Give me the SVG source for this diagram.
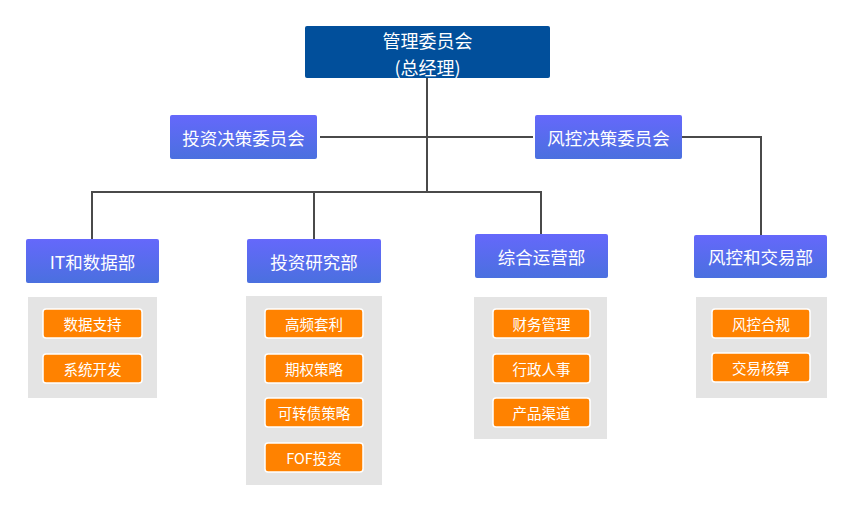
<svg xmlns="http://www.w3.org/2000/svg" width="853" height="509" viewBox="0 0 853 509">
<defs>
<linearGradient id="blu" x1="0" y1="0" x2="0" y2="1">
<stop offset="0" stop-color="#6568fb"/>
<stop offset="1" stop-color="#4a70df"/>
</linearGradient>
<style>
text{font-family:"Noto Sans CJK SC","Microsoft YaHei",sans-serif;fill:#fff;text-anchor:middle;dominant-baseline:central}
.top{fill:#014f9b}
.com{fill:url(#blu)}
.big{font-size:18px}
.mid{font-size:17.5px}
.sm{font-size:14.5px}
.gray{fill:#e4e4e4}
.or{fill:#ff8200;stroke:#fff;stroke-width:1.5}
.ln{fill:none;stroke:#4a4a4a;stroke-width:2}
</style>
</defs>
<rect width="853" height="509" fill="#fff"/>
<g id="connectors">
<path class="ln" d="M427 78 V192"/>
<path class="ln" d="M320 137 H533"/>
<path class="ln" d="M92 239 V192 H541 V234"/>
<path class="ln" d="M314 192 V239"/>
<path class="ln" d="M682 137 H761 V235"/>
</g>
<g id="mgmt">
<rect class="top" x="305" y="26" width="245" height="52" rx="2"/>
<text class="big" x="427.5" y="40">管理委员会</text>
<text class="big" x="427.5" y="66.5">(总经理)</text>
</g>
<g id="invcom">
<rect class="com" x="170" y="115" width="147" height="44" rx="2"/>
<text class="mid" x="243.5" y="137">投资决策委员会</text>
</g>
<g id="riskcom">
<rect class="com" x="535" y="115" width="147" height="44" rx="2"/>
<text class="mid" x="608.5" y="137">风控决策委员会</text>
</g>
<g id="it">
<rect class="com" x="26" y="239" width="133" height="44" rx="2"/>
<text class="mid" x="92.5" y="261">IT和数据部</text>
<rect class="gray" x="28" y="297" width="129" height="101"/>
<rect class="or" x="43" y="309" width="99" height="29" rx="3"/>
<text class="sm" x="92.5" y="323.5">数据支持</text>
<rect class="or" x="43" y="354" width="99" height="29" rx="3"/>
<text class="sm" x="92.5" y="368.5">系统开发</text>
</g>
<g id="research">
<rect class="com" x="247" y="239" width="134" height="44" rx="2"/>
<text class="mid" x="314" y="261">投资研究部</text>
<rect class="gray" x="246" y="296" width="136" height="189"/>
<rect class="or" x="265" y="309" width="98" height="29" rx="3"/>
<text class="sm" x="314" y="323.5">高频套利</text>
<rect class="or" x="265" y="354" width="98" height="29" rx="3"/>
<text class="sm" x="314" y="368.5">期权策略</text>
<rect class="or" x="265" y="398" width="98" height="29" rx="3"/>
<text class="sm" x="314" y="412.5">可转债策略</text>
<rect class="or" x="265" y="443" width="98" height="29" rx="3"/>
<text class="sm" x="314" y="457.5">FOF投资</text>
</g>
<g id="ops">
<rect class="com" x="475" y="234" width="133" height="44" rx="2"/>
<text class="mid" x="541.5" y="256">综合运营部</text>
<rect class="gray" x="474" y="297" width="133" height="142"/>
<rect class="or" x="493" y="309" width="97" height="29" rx="3"/>
<text class="sm" x="541.5" y="323.5">财务管理</text>
<rect class="or" x="493" y="354" width="97" height="29" rx="3"/>
<text class="sm" x="541.5" y="368.5">行政人事</text>
<rect class="or" x="493" y="398" width="97" height="29" rx="3"/>
<text class="sm" x="541.5" y="412.5">产品渠道</text>
</g>
<g id="risk">
<rect class="com" x="694" y="235" width="133" height="43" rx="2"/>
<text class="mid" x="760.5" y="256.5">风控和交易部</text>
<rect class="gray" x="696" y="297" width="131" height="101"/>
<rect class="or" x="712" y="309" width="98" height="29" rx="3"/>
<text class="sm" x="761" y="323.5">风控合规</text>
<rect class="or" x="712" y="353" width="98" height="29" rx="3"/>
<text class="sm" x="761" y="367.5">交易核算</text>
</g>
</svg>
